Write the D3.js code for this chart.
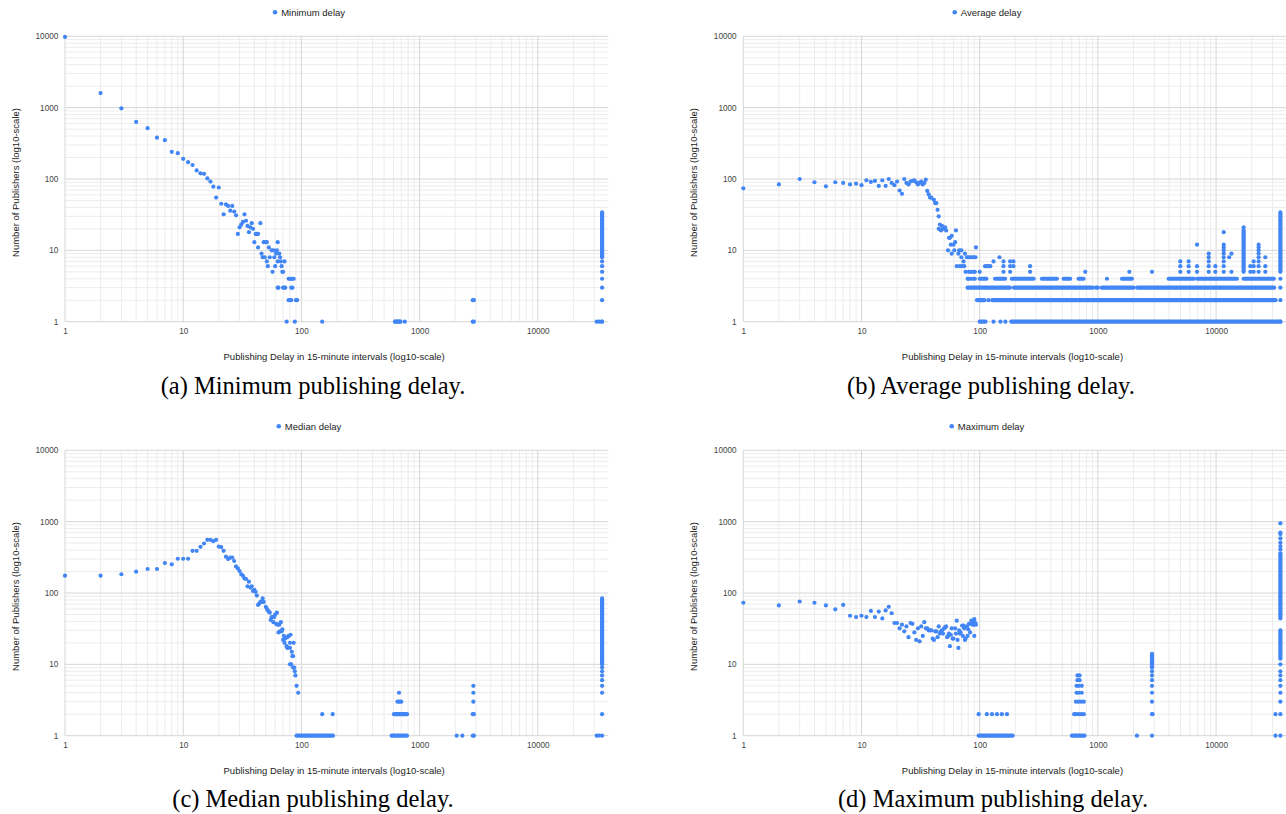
<!DOCTYPE html>
<html><head><meta charset="utf-8">
<script src="https://cdn.jsdelivr.net/npm/d3@7"></script>
<style>html,body{margin:0;padding:0;background:#fff;} svg{display:block;}</style>
</head><body>
<svg id="chart" width="1286" height="814"></svg>
<script>
// ---------------- DATA ----------------
// Axis tick values / labels (shared by all four panels)
const tickValues = [1, 10, 100, 1000, 10000];
const tickLabels = ["1", "10", "100", "1000", "10000"];
const xDomain = [1, 39500];
const yDomain = [1, 10000];

const seriesNames = ["Minimum delay", "Average delay", "Median delay", "Maximum delay"];
const captions = ["(a) Minimum publishing delay.", "(b) Average publishing delay.",
                  "(c) Median publishing delay.", "(d) Maximum publishing delay."];
const xTitle = "Publishing Delay in 15-minute intervals (log10-scale)";
const yTitle = "Number of Publishers (log10-scale)";

// Each point: [delay, number of publishers]
const minimumPoints = [[1,9800],[2,1600],[3,980],[4,630],[5,515],[6,380],[7,350],[8,240],[9,230],[10,192],
 [11,172],[12,157],[13,132],[14,120],[15,118],[16,102],[17,92],[18,78],[19,55],[20,76],[21,45],[22,32],
 [23,44],[24,42],[25,36],[26,42],[27,35],[28,31],[29,17],[30,21],[31,23],[32,25],[33,32],[34,26],[35,22],
 [36,18],[37,21],[38,24],[39,20],[40,13],[41,17],[42,17],[43,17],[43,11],[45,24],[46,9],[47,8],[48,13],
 [49,8],[50,13],[51,7],[51,13],[52,6],[53,11],[54,8],[56,10],[57,5],[58,10],[59,8],[60,6],[61,9],[62,10],
 [63,13],[63,7],[63,3],[64,3],[65,9],[66,8],[67,7],[68,6],[69,5],[70,5],[70,3],[72,7],[72,3],[73,3],[75,1],
 [78,4],[80,4],[82,4],[84,4],[86,4],[78,2],[80,2],[82,2],[82,3],[84,3],[88,1],[90,2],[92,2],[150,1],
 [620,1],[650,1],[680,1],[750,1],[2820,2],[2880,2],[2820,1],[2880,1],[31500,1],[33000,1],[34700,1],
 [35000,1],[35000,2],[35000,3],[35000,4],[35000,5],[35000,6],[35000,7]];
// Runs of consecutive delays sharing one count: [fromDelay, toDelay, count]
const minimumRuns = [[620,690,1]];
// Dense stacks at one delay: [delay, fromCount, toCount]
const minimumStacks = [[35000,8,34]];

const averagePoints = [[1,74],[2,84],[3,100],[4,90],[5,79],[6,90],[7,88],[8,84],[9,86],[10,82],[11,96],
 [12,91],[13,94],[14,80],[15,96],[16,80],[17,100],[18,88],[19,82],[20,92],[21,69],[22,62],[23,100],[24,88],
 [25,84],[26,92],[27,94],[28,96],[29,90],[30,84],[31,88],[32,92],[33,84],[34,88],[35,98],[36,68],[37,61],
 [38,55],[39,55],[41,51],[42,46],[43,46],[44,37],[45,30],[45,20],[46,23],[47,19],[48,22],[49,20],[51,21],
 [52,19],[54,10],[55,15],[56,15],[57,12],[58,16],[58,9],[60,12],[61,10],[62,13],[63,19],[64,6],[66,9],
 [67,10],[68,6],[70,10],[70,8],[71,6],[73,7],[74,6],[75,9],[76,5],[78,8],[80,8],[83,8],[86,8],[89,8],
 [92,8],[93,11],[79,4],[81,4],[84,4],[88,4],[91,4],[81,5],[84,5],[88,5],[91,5],[95,2],[97,2],[100,5],
 [111,6],[115,6],[119,6],[123,6],[131,7],[147,8],[159,7],[159,6],[159,5],[181,7],[193,7],[181,6],[193,6],
 [181,5],[267,6],[267,5],[782,5],[1193,4],[1845,5],[2870,5],[131,1],[150,1],[165,1],[119,2],
 [4980,5],[4980,6],[4980,7],[5860,5],[5860,6],[5860,7],[6900,5],[6900,6],[6900,12],[8660,5],[8660,6],
 [8660,7],[8660,8],[8660,9],[9860,5],[9860,6],[11600,5],[11600,6],[11600,7],[11600,8],[11600,9],
 [11600,10],[11600,11],[11600,12],[11600,18],[12900,8],[13500,9],[13500,5],[17100,21],[17100,19],
 [19500,5],[19500,6],[20800,5],[20800,6],[20800,7],[22900,5],[22900,6],[22900,7],[22900,8],[22900,9],
 [22900,10],[22900,11],[22900,12],[26100,5],[26100,6],[26100,8],[35000,1],[35000,2],[35000,3],[35000,4]];
const averageRuns = [[100,112,1],[185,35000,1],[100,110,2],[128,31800,2],
 [79,180,3],[195,640,3],[660,900,3],[960,1000,3],[1080,2000,3],[2150,31000,3],
 [100,114,4],[135,164,4],[187,286,4],[336,450,4],[513,583,4],[687,757,4],[1600,1942,4],
 [3970,6460,4],[6900,15000,4],[17100,30800,4]];
const averageStacks = [[17100,5,18],[35000,5,34]];

const medianPoints = [[1,175],[2,175],[3,183],[4,199],[5,217],[6,217],[7,263],[8,252],[9,302],[10,302],
 [11,302],[12,390],[13,390],[14,444],[15,494],[16,556],[17,556],[18,532],[19,556],[20,448],[21,440],
 [22,390],[23,323],[24,299],[25,314],[26,314],[27,281],[28,236],[29,221],[30,203],[31,183],[32,175],
 [33,160],[34,157],[35,124],[36,144],[37,119],[38,124],[39,107],[40,111],[41,104],[42,92],[43,68],[44,71],
 [45,75],[46,75],[47,84],[48,75],[50,64],[51,60],[52,57],[53,55],[54,53],[55,42],[56,46],[57,46],[58,39],
 [59,46],[60,50],[61,37],[62,53],[63,36],[64,28],[65,36],[66,29],[67,39],[68,29],[69,31],[70,22],[71,25],
 [72,20],[73,23],[75,18],[76,17],[76,24],[78,25],[80,20],[80,17],[81,26],[83,15],[84,13],[85,13],[86,20],
 [80,10],[82,10],[85,9],[87,9],[88,8],[89,7],[91,5],[94,4],[150,2],[184,2],[650,3],[675,3],[700,3],
 [670,4],[2850,5],[2850,4],[2850,3],[2820,2],[2880,2],[2820,1],[2880,1],[2060,1],[2300,1],
 [31500,1],[33000,1],[35000,1],[35000,2],[35000,4],[35000,5],[35000,6],[35000,7],[35000,8],[35000,9]];
const medianRuns = [[91,185,1],[580,782,1],[607,782,2]];
const medianStacks = [[35000,10,84]];

const maximumPoints = [[1,73],[2,67],[3,76],[4,73],[5,67],[6,59],[7,68],[8,48],[9,46],[10,48],[11,46],
 [12,56],[13,46],[14,55],[15,44],[16,57],[17,64],[18,52],[19,38],[20,38],[21,32],[22,36],[23,29],[24,34],
 [25,24],[26,38],[27,37],[28,28],[29,22],[30,32],[31,21],[32,34],[33,25],[34,39],[35,32],[36,32],[37,30],
 [38,30],[39,30],[40,23],[41,22],[42,29],[43,29],[44,24],[45,34],[46,27],[47,29],[48,30],[49,27],[50,32],
 [51,33],[52,34],[53,24],[54,25],[55,27],[56,18],[57,26],[58,32],[59,23],[60,23],[62,32],[63,27],[64,41],
 [65,22],[66,17],[67,30],[68,27],[69,28],[71,35],[72,25],[73,35],[74,32],[75,22],[76,23],[78,34],[79,25],
 [80,31],[81,37],[83,28],[84,37],[85,41],[87,36],[88,41],[89,38],[90,43],[90,36],[90,25],[92,38],[93,36],
 [98,2],[115,2],[127,2],[140,2],[154,2],[170,2],
 [672,7],[700,7],[672,6],[700,6],[660,5],[690,5],[730,5],[660,4],[690,4],[730,4],
 [652,3],[687,3],[724,3],[760,3],[630,2],[652,2],[687,2],[724,2],[760,2],
 [2870,1],[2870,2],[2900,2],[2870,3],[2870,4],[2870,5],[2870,6],[2870,7],[2870,8],[2140,1],
 [31800,1],[31800,2],[35000,1],[35000,2],[35000,3],[35000,4],[35000,5],[35000,6],[35000,7],[35000,8],
 [35000,10],[35000,947],[35000,700],[35000,670],[35000,583],[35000,510],[35000,455],[35000,410]];
const maximumRuns = [[98,190,1],[603,770,1]];
const maximumStacks = [[2870,9,14],[35000,44,360],[35000,12,30]];

// ---------------- LAYOUT ----------------
const FONT = "'Liberation Sans', Arial, Helvetica, sans-serif";
const BLUE = "#4285f4";
const R = 2.1;
const plotW = 543.3, plotH = 285.4;
const panels = [
  {left:65,    top:36.3,  legendCx:309, legendY:12.3,  capX:313, capY:394, pts:minimumPoints, runs:minimumRuns, stacks:minimumStacks},
  {left:743.3, top:36.3,  legendCx:987, legendY:12.3,  capX:991, capY:394, pts:averagePoints, runs:averageRuns, stacks:averageStacks},
  {left:65,    top:450.3, legendCx:309, legendY:426.3, capX:313, capY:807, pts:medianPoints,  runs:medianRuns,  stacks:medianStacks},
  {left:743.3, top:450.3, legendCx:987, legendY:426.3, capX:993, capY:807, pts:maximumPoints, runs:maximumRuns, stacks:maximumStacks}
];

const svg = d3.select("#chart");
const isMajor = v => Math.abs(Math.log10(v) - Math.round(Math.log10(v))) < 1e-9;

panels.forEach((p, i) => {
  const x = d3.scaleLog().domain(xDomain).range([p.left, p.left + plotW]);
  const y = d3.scaleLog().domain(yDomain).range([p.top + plotH, p.top]);
  const g = svg.append("g");

  // grid
  const grid = g.append("g");
  const xt = x.ticks(), yt = y.ticks();
  grid.selectAll(".gx-minor").data(xt.filter(v => !isMajor(v))).join("line")
    .attr("x1", d => x(d)).attr("x2", d => x(d)).attr("y1", p.top).attr("y2", p.top + plotH)
    .attr("stroke", "#ececec").attr("stroke-width", 1);
  grid.selectAll(".gy-minor").data(yt.filter(v => !isMajor(v))).join("line")
    .attr("y1", d => y(d)).attr("y2", d => y(d)).attr("x1", p.left).attr("x2", p.left + plotW)
    .attr("stroke", "#ececec").attr("stroke-width", 1);
  grid.selectAll(".gx-major").data(xt.filter(isMajor)).join("line")
    .attr("x1", d => x(d)).attr("x2", d => x(d)).attr("y1", p.top).attr("y2", p.top + plotH)
    .attr("stroke", "#d6d6d6").attr("stroke-width", 1);
  grid.selectAll(".gy-major").data(yt.filter(isMajor)).join("line")
    .attr("y1", d => y(d)).attr("y2", d => y(d)).attr("x1", p.left).attr("x2", p.left + plotW)
    .attr("stroke", "#d6d6d6").attr("stroke-width", 1);

  // axes
  const xa = g.append("g").attr("transform", `translate(0,${p.top + plotH})`)
    .call(d3.axisBottom(x).tickValues(tickValues).tickFormat((d, k) => tickLabels[k]).tickSize(0).tickPadding(6.5));
  const ya = g.append("g").attr("transform", `translate(${p.left},0)`)
    .call(d3.axisLeft(y).tickValues(tickValues).tickFormat((d, k) => tickLabels[k]).tickSize(0).tickPadding(6.7));
  [xa, ya].forEach(a => {
    a.select(".domain").remove();
    a.attr("font-family", FONT).attr("font-size", 8.2);
    a.selectAll("text").attr("fill", "#444");
  });

  // titles
  g.append("text").attr("x", p.left + plotW / 2 - 2.5).attr("y", p.top + plotH + 38.7)
    .attr("text-anchor", "middle").attr("font-family", FONT).attr("font-size", 9.5).attr("fill", "#222")
    .text(xTitle);
  const yc = p.top + plotH / 2 + 3.5, yx = p.left - 49.3;
  g.append("text").attr("transform", `translate(${yx},${yc}) rotate(-90)`).attr("dy", "0.35em")
    .attr("text-anchor", "middle").attr("font-family", FONT).attr("font-size", 9.5).attr("fill", "#222")
    .text(yTitle);

  // data marks
  const marks = g.append("g").attr("fill", BLUE).attr("stroke", BLUE);
  marks.selectAll(".run").data(p.runs).join("line").attr("class", "run")
    .attr("x1", d => x(d[0])).attr("x2", d => x(d[1])).attr("y1", d => y(d[2])).attr("y2", d => y(d[2]))
    .attr("stroke-width", 2 * R).attr("stroke-linecap", "round");
  marks.selectAll(".stack").data(p.stacks).join("line").attr("class", "stack")
    .attr("x1", d => x(d[0])).attr("x2", d => x(d[0])).attr("y1", d => y(d[1])).attr("y2", d => y(d[2]))
    .attr("stroke-width", 2 * R).attr("stroke-linecap", "round");
  marks.selectAll(".pt").data(p.pts).join("circle").attr("class", "pt")
    .attr("cx", d => x(d[0])).attr("cy", d => y(d[1])).attr("r", R).attr("stroke", "none");

  // legend
  const lg = g.append("g");
  const lt = lg.append("text").attr("y", p.legendY).attr("dy", "0.35em").attr("font-family", FONT)
    .attr("font-size", 9.5).attr("fill", "#222").text(seriesNames[i]);
  const tw = lt.node().getComputedTextLength();
  const total = 2 * R + 4 + tw;
  const startX = p.legendCx - total / 2;
  lg.append("circle").attr("cx", startX + R).attr("cy", p.legendY).attr("r", R + 0.2).attr("fill", BLUE);
  lt.attr("x", startX + 2 * R + 4);

  // caption
  svg.append("text").attr("x", p.capX).attr("y", p.capY).attr("text-anchor", "middle")
    .attr("font-family", "'Liberation Serif', 'Times New Roman', serif").attr("font-size", 24.5)
    .attr("fill", "#000").text(captions[i]);
});
</script>
</body></html>
